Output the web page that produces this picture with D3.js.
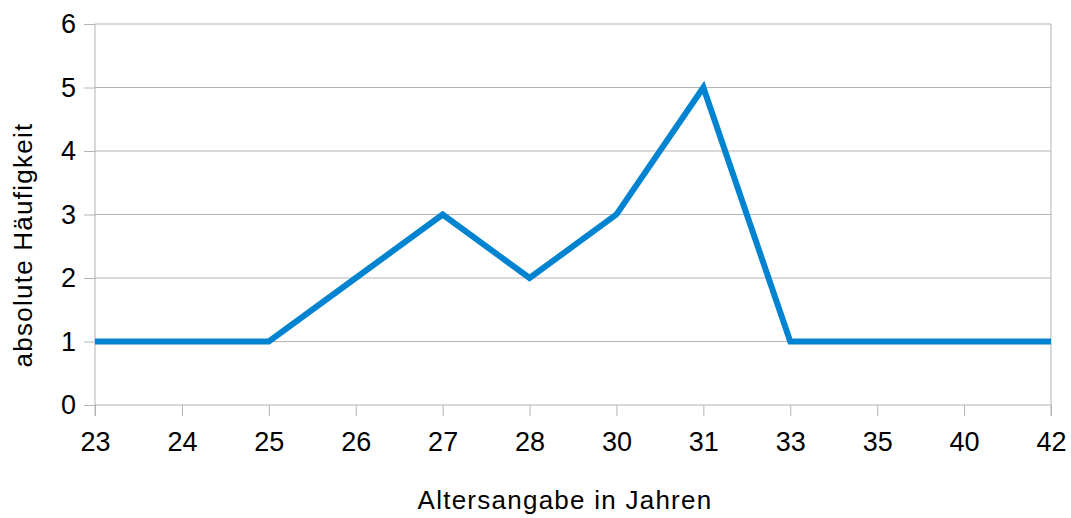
<!DOCTYPE html>
<html>
<head>
<meta charset="utf-8">
<script src="https://cdn.jsdelivr.net/npm/d3@7"></script>
<style>
  html, body { margin: 0; padding: 0; background: #fff; }
  svg { display: block; font-family: "Liberation Sans", Arial, sans-serif; }
</style>
</head>
<body>
<svg id="chart" width="1071" height="518"></svg>
<script>
// Age categories (x axis) and absolute frequencies
const ages = ["23", "24", "25", "26", "27", "28", "30", "31", "33", "35", "40", "42"];
const counts = [1, 1, 1, 2, 3, 2, 3, 5, 1, 1, 1, 1];
const yTicks = [0, 1, 2, 3, 4, 5, 6];

const svg = d3.select("#chart");
const margin = { left: 95, right: 20, top: 24, bottom: 113 };
const W = 1071, H = 518;
const FONT = "'Liberation Sans', Arial, sans-serif";

const x = d3.scalePoint().domain(ages).range([margin.left, W - margin.right]);
const y = d3.scaleLinear().domain([0, 6]).range([H - margin.bottom, margin.top]);

const gridColor = "#b3b3b3";

// Left axis with tick stubs
const yAxis = svg.append("g")
  .attr("transform", `translate(${margin.left},0)`)
  .call(d3.axisLeft(y).tickValues(yTicks).tickFormat(d3.format("d"))
    .tickSize(11).tickSizeOuter(0).tickPadding(8));
yAxis.select(".domain").remove();
yAxis.selectAll(".tick line").attr("stroke", gridColor);
yAxis.selectAll(".tick text").attr("font-size", 27).attr("fill", "#000")
  .attr("font-family", FONT);

// Horizontal grid lines
svg.append("g").selectAll("line").data(yTicks).join("line")
  .attr("x1", margin.left).attr("x2", W - margin.right)
  .attr("y1", d => y(d)).attr("y2", d => y(d))
  .attr("stroke", gridColor).attr("stroke-width", 1);

// Right border
svg.append("line")
  .attr("x1", W - margin.right).attr("x2", W - margin.right)
  .attr("y1", y(6)).attr("y2", y(0) + 11)
  .attr("stroke", gridColor);

// Bottom axis
const xAxis = svg.append("g")
  .attr("transform", `translate(0,${y(0)})`)
  .call(d3.axisBottom(x).tickSize(11).tickSizeOuter(0).tickPadding(16));
xAxis.select(".domain").remove();
xAxis.selectAll(".tick line").attr("stroke", gridColor);
xAxis.selectAll(".tick text").attr("font-size", 27).attr("fill", "#000")
  .attr("font-family", FONT);

// Left axis line extends down past the baseline
svg.append("line")
  .attr("x1", margin.left).attr("x2", margin.left)
  .attr("y1", y(6)).attr("y2", y(0) + 11)
  .attr("stroke", gridColor);

// Frequency line
const line = d3.line().x((d, i) => x(ages[i])).y(d => y(d));
svg.append("path")
  .datum(counts)
  .attr("d", line)
  .attr("fill", "none")
  .attr("stroke", "#0084d1")
  .attr("stroke-width", 6)
  .attr("stroke-linejoin", "miter")
  .attr("stroke-linecap", "butt");

// Axis titles
svg.append("text")
  .attr("x", 565)
  .attr("y", 509)
  .attr("text-anchor", "middle")
  .attr("font-size", 26)
  .attr("letter-spacing", 1.25)
  .text("Altersangabe in Jahren");

svg.append("text")
  .attr("transform", `translate(32,245) rotate(-90)`)
  .attr("text-anchor", "middle")
  .attr("font-size", 26)
  .attr("letter-spacing", 1.25)
  .text("absolute Häufigkeit");
</script>
</body>
</html>
